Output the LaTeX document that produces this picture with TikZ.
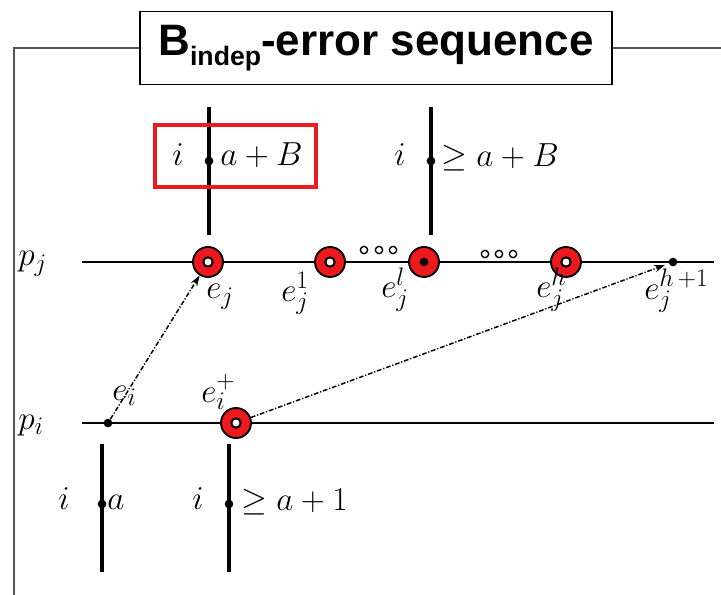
\RequirePackage{fix-cm}
\documentclass[tikz,border=0pt]{standalone}
\usepackage{fontspec}
\newfontfamily\titlefont{Liberation Sans}
\DeclareMathSizes{25}{25}{19}{15}
\usetikzlibrary{arrows.meta}
\definecolor{errred}{RGB}{236,26,30}
\definecolor{framegray}{RGB}{85,85,85}
\begin{document}
\begin{tikzpicture}[x=0.75pt,y=-0.75pt,
  framestyle/.style={draw=framegray,line width=1.3pt},
  titlebox/.style={draw=black,fill=white,line width=1.2pt,minimum width=354pt,minimum height=55pt,inner sep=0pt,font=\titlefont\bfseries\fontsize{33}{36}\selectfont},
  hline/.style={line width=1.8pt},
  vline/.style={line width=2.6pt},
  errnode/.style={circle,draw=black,fill=errred,line width=1.4pt,minimum size=22.5pt,inner sep=0pt},
  holemark/.style={circle,draw=black,fill=white,line width=1.5pt,minimum size=7pt,inner sep=0pt},
  pdot/.style={circle,fill=black,minimum size=6.5pt,inner sep=0pt},
  tinyring/.style={circle,draw=black,fill=white,line width=1pt,minimum size=5.5pt,inner sep=0pt},
  lbl/.style={inner sep=0pt,font=\fontsize{25}{28}\selectfont},
  msg/.style={line width=1.1pt,dash pattern=on 3.5pt off 1.4pt on 0.9pt off 1.4pt,-{Stealth[length=8pt,width=5.5pt]}},
  redbox/.style={draw=errred,line width=3.5pt}
]
\useasboundingbox (0,0) rectangle (721,595);

% title and frame
\node[titlebox] (title) at (376,48) {B\raisebox{-7pt}{\fontsize{20}{22}\selectfont indep}-error sequence};
\coordinate (fl) at (14,48);
\coordinate (fb) at (14,595);
\coordinate (fr) at (721,48);
\draw[framestyle] (title.west) -- (fl) -- (fb);
\draw[framestyle] (title.east) -- (fr);

% process lines
\coordinate (pjs) at (82,262);
\coordinate (pje) at (714,262);
\coordinate (pis) at (82,423);
\coordinate (pie) at (714,423);
\draw[hline] (pjs) -- (pje);
\draw[hline] (pis) -- (pie);
\node[lbl,anchor=base west] (pj) at (18,266) {$p_j$};
\node[lbl,anchor=base west] (pi) at (18,429) {$p_i$};

% vertical lines (upper)
\coordinate (v1t) at (209,107);
\coordinate (v1b) at (209,235);
\coordinate (v2t) at (431,107);
\coordinate (v2b) at (431,235);
\draw[vline] (v1t) -- (v1b);
\draw[vline] (v2t) -- (v2b);
\node[pdot] (d1) at (209,161) {};
\node[pdot] (d2) at (431,161) {};
\node[lbl,anchor=base] (i1) at (178,166) {$i$};
\node[lbl,anchor=base west] (aB) at (220,166) {$a+B$};
\node[lbl,anchor=base] (i2) at (400,166) {$i$};
\node[lbl,anchor=base west] (geaB) at (441,167) {$\geq a+B$};
\coordinate (rb1) at (155,125);
\coordinate (rb2) at (316,187);
\draw[redbox] (rb1) rectangle (rb2);

% vertical lines (lower)
\coordinate (v3t) at (102,444);
\coordinate (v3b) at (102,572);
\coordinate (v4t) at (229,444);
\coordinate (v4b) at (229,572);
\draw[vline] (v3t) -- (v3b);
\draw[vline] (v4t) -- (v4b);
\node[pdot] (d3) at (102,504) {};
\node[pdot] (d4) at (229,504) {};
\node[lbl,anchor=base] (i3) at (64,509) {$i$};
\node[lbl,anchor=base west] (la) at (107,509) {$a$};
\node[lbl,anchor=base] (i4) at (198,509) {$i$};
\node[lbl,anchor=base west] (gea1) at (241,510) {$\geq a+1$};

% error events on p_j
\node[errnode] (ej) at (208,262) {};
\node[errnode] (ej1) at (330,262) {};
\node[errnode] (ejl) at (424,262) {};
\node[errnode] (ejh) at (566,262) {};
\node[holemark] (hj) at (ej) {};
\node[holemark] (hj1) at (ej1) {};
\node[pdot] (hjl) at (ejl) {};
\node[holemark] (hjh) at (ejh) {};
\node[pdot] (ejh1) at (673,262) {};

% error events on p_i
\node[pdot] (ei) at (108,423) {};
\node[errnode] (eip) at (236,423) {};
\node[holemark] (hip) at (eip) {};

% ellipsis rings
\node[tinyring] (r1) at (364,250) {};
\node[tinyring] (r2) at (379,250) {};
\node[tinyring] (r3) at (393,250) {};
\node[tinyring] (r4) at (485,254) {};
\node[tinyring] (r5) at (499,254) {};
\node[tinyring] (r6) at (513,254) {};

% labels
\node[lbl,anchor=base west] (lej) at (206,299) {$e_j$};
\node[lbl,anchor=base west] (lej1) at (281,301) {$e_j^1$};
\node[lbl,anchor=base west] (lejl) at (381,298) {$e_j^l$};
\node[lbl,anchor=base west] (lejh) at (536,298) {$e_j^h$};
\node[lbl,anchor=base west] (lejh1) at (644,300) {$e_j^{h\,+1}$};
\node[lbl,anchor=base west] (lei) at (112,400) {$e_i$};
\node[lbl,anchor=base west] (leip) at (201,402) {$e_i^+$};

% messages
\draw[msg] (ei) -- (ej);
\draw[msg,shorten >=3pt] (eip) -- (ejh1);
\end{tikzpicture}
\end{document}
